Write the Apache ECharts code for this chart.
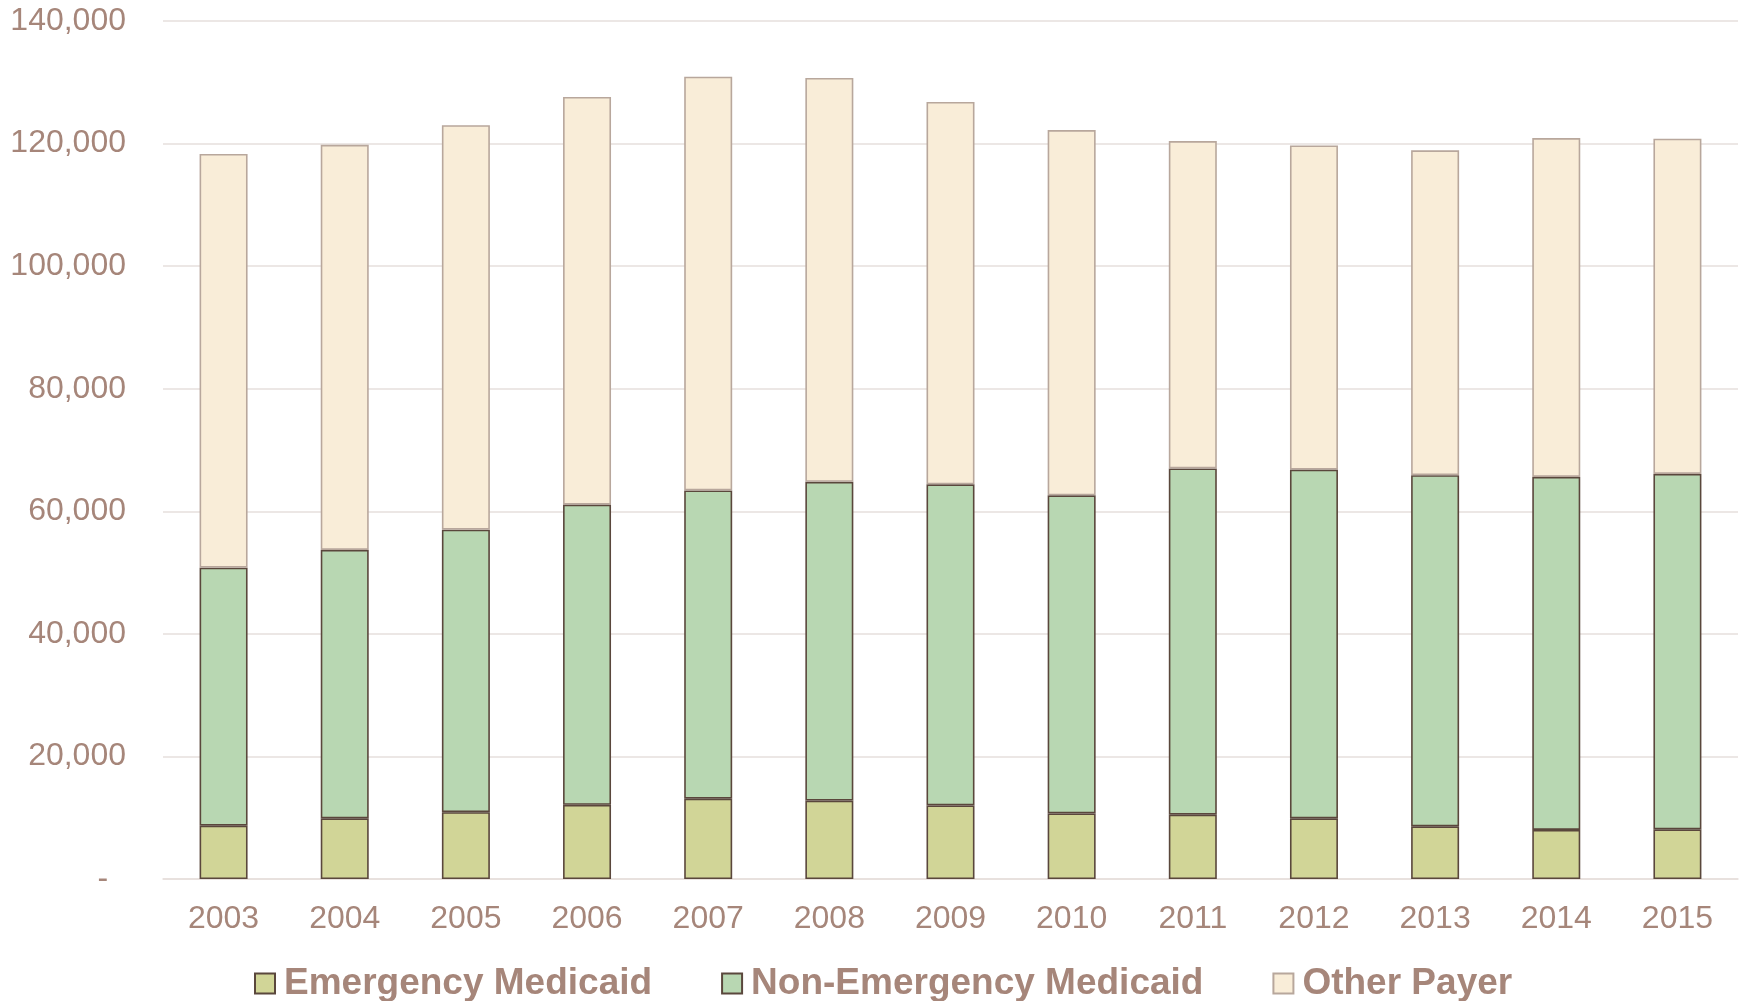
<!DOCTYPE html>
<html>
<head>
<meta charset="utf-8">
<title>Births by payer, 2003–2015</title>
<script src="https://cdn.jsdelivr.net/npm/echarts@6/dist/echarts.min.js"></script>
<style>
  html, body { margin: 0; padding: 0; background: #ffffff; }
  #chart { width: 1746px; height: 1001px; }
</style>
</head>
<body>
<div id="chart"></div>
<script>
// Years shown along the category axis
const years = ['2003', '2004', '2005', '2006', '2007', '2008', '2009', '2010', '2011', '2012', '2013', '2014', '2015'];

// Stacked series values (counts per year)
const emergencyMedicaid = [8700, 9900, 10900, 12100, 13100, 12800, 12000, 10700, 10500, 9900, 8600, 8000, 8100];
const nonEmergencyMedicaid = [42100, 43800, 46100, 49000, 50300, 52000, 52400, 51900, 56500, 56900, 57300, 57600, 58000];
const otherPayer = [67500, 66100, 66000, 66500, 67500, 65900, 62400, 59600, 53400, 52900, 53000, 55300, 54700];

// Value axis range
const yMin = 0;
const yMax = 140000;
const yStep = 20000;

const labelColor = '#A6867A';
const gridColor = '#E6DFDC';
const fontFamily = "'Liberation Sans', Arial, sans-serif";

function formatCount(v) {
  if (v === 0) return '-  ';
  return v.toString().replace(/\B(?=(\d{3})+(?!\d))/g, ',');
}

const chart = echarts.init(document.getElementById('chart'), null, { renderer: 'canvas' });

chart.setOption({
  animation: false,
  backgroundColor: '#ffffff',
  grid: { left: 163, right: 8, top: 21, bottom: 122, containLabel: false },
  legend: {
    left: 249,
    top: 960,
    itemWidth: 20,
    itemHeight: 20,
    itemGap: 69,
    icon: 'rect',
    textStyle: {
      color: labelColor,
      fontFamily: fontFamily,
      fontSize: 37,
      fontWeight: 'bold',
      padding: [0, 0, 0, 4]
    },
    data: ['Emergency Medicaid', 'Non-Emergency Medicaid', 'Other Payer']
  },
  xAxis: {
    type: 'category',
    data: years,
    axisTick: { show: false },
    axisLine: { show: true, lineStyle: { color: gridColor, width: 1.5 } },
    axisLabel: { color: labelColor, fontFamily: fontFamily, fontSize: 32, margin: 24 }
  },
  yAxis: {
    type: 'value',
    min: yMin,
    max: yMax,
    interval: yStep,
    axisLine: { show: false },
    axisTick: { show: false },
    splitLine: { show: true, lineStyle: { color: gridColor, width: 1.5 } },
    axisLabel: {
      color: labelColor,
      fontFamily: fontFamily,
      fontSize: 32,
      margin: 37,
      formatter: formatCount
    }
  },
  series: [
    {
      name: 'Emergency Medicaid',
      type: 'bar',
      stack: 'total',
      barWidth: 48,
      data: emergencyMedicaid,
      itemStyle: { color: '#D1D597', borderColor: '#5A473C', borderWidth: 1.6 }
    },
    {
      name: 'Non-Emergency Medicaid',
      type: 'bar',
      stack: 'total',
      barWidth: 48,
      data: nonEmergencyMedicaid,
      itemStyle: { color: '#B8D7B2', borderColor: '#5A473C', borderWidth: 1.6 }
    },
    {
      name: 'Other Payer',
      type: 'bar',
      stack: 'total',
      barWidth: 48,
      data: otherPayer,
      itemStyle: { color: '#F9EDD8', borderColor: '#B8A79C', borderWidth: 1.6 }
    }
  ]
});
</script>
</body>
</html>
